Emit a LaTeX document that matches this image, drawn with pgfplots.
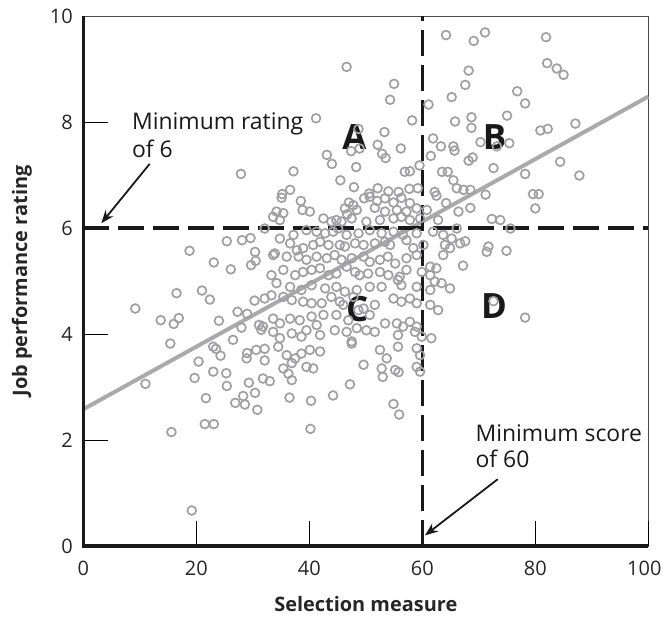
\documentclass[border=0pt]{standalone}
\usepackage{pgfplots}
\pgfplotsset{compat=1.18}
\usepackage{pgfplotstable}
\usepackage{fontspec}
\setmainfont{Open Sans}
\setsansfont{Open Sans}
\usetikzlibrary{arrows.meta}

\definecolor{markgray}{RGB}{160,160,162}
\definecolor{linegray}{RGB}{170,170,170}

% selection score vs job performance rating
\pgfplotstableread{
x y
27.9 7.02
64.2 9.64
46.6 9.04
55.0 8.72
54.3 8.42
65.2 8.47
61.1 8.33
41.2 8.07
58.2 8.03
65.8 8.01
48.7 7.87
53.3 7.81
47.4 7.45
48.9 7.50
52.1 7.57
56.2 7.50
43.1 7.38
44.0 7.21
48.3 7.15
52.9 7.40
53.5 7.32
61.9 7.69
63.3 7.54
61.5 7.36
65.5 7.54
65.7 7.46
59.5 7.18
56.9 7.06
57.8 7.07
37.2 7.07
45.5 6.90
47.9 6.77
36.6 6.72
35.2 6.64
50.6 6.65
52.1 6.75
54.0 6.69
55.8 6.68
57.7 6.74
59.2 6.75
62.2 6.68
63.5 7.06
64.5 7.06
65.5 6.90
66.1 6.75
69.1 9.53
71.1 9.69
81.9 9.60
82.1 9.11
83.8 9.01
85.0 8.89
68.2 8.97
67.6 8.70
76.8 8.58
78.2 8.35
68.7 8.09
68.7 7.89
75.0 8.12
80.9 7.84
82.2 7.87
87.1 7.97
70.3 7.62
73.2 7.54
75.4 7.60
68.2 7.27
68.9 7.33
72.6 7.13
84.4 7.25
78.2 7.02
87.8 6.99
67.3 6.72
68.5 6.72
71.2 6.63
79.6 6.64
80.6 6.64
80.0 6.37
68.5 6.38
66.4 6.31
72.3 6.17
73.8 6.15
75.6 5.99
66.1 5.99
67.6 5.75
66.7 5.71
71.7 5.65
71.4 5.55
74.9 5.57
67.2 5.29
72.6 4.62
78.2 4.31
32.1 5.99
25.4 5.75
28.1 5.77
29.6 5.81
18.8 5.57
23.1 5.35
26.1 5.22
30.4 5.55
30.5 5.38
29.7 5.30
16.5 4.77
21.0 4.82
22.4 4.65
30.3 4.63
32.1 4.67
9.2 4.48
13.7 4.26
16.9 4.30
16.0 4.19
24.0 4.25
27.3 4.42
29.0 4.38
31.1 4.17
31.5 4.08
31.8 4.14
28.0 4.12
15.4 3.82
26.5 3.89
23.0 3.76
23.5 3.72
24.3 3.59
29.0 3.64
28.9 3.54
30.6 3.70
32.1 3.72
32.1 3.50
20.4 3.48
23.0 3.29
25.3 3.26
11.0 3.06
19.7 3.17
31.8 3.16
33.0 3.11
25.4 3.02
29.3 3.08
21.7 2.79
26.9 2.70
28.3 2.83
28.6 2.67
30.4 2.89
30.8 2.57
21.5 2.30
23.1 2.30
15.6 2.15
19.2 0.67
36.9 3.13
36.3 3.25
36.5 2.80
40.3 2.74
44.2 2.84
47.2 3.05
53.0 3.19
55.8 3.28
54.9 2.68
55.9 2.48
40.2 2.21
35.1 6.57
38.5 6.51
47.0 6.48
47.8 6.43
49.7 6.56
50.7 6.59
52.0 6.51
53.4 6.56
54.9 6.48
56.3 6.57
57.8 6.47
62.5 6.61
64.2 6.47
34.2 6.31
35.4 6.28
38.8 6.34
40.1 6.31
46.3 6.37
46.7 6.26
48.4 6.34
51.6 6.38
53.4 6.31
55.5 6.34
57.2 6.31
59.0 6.37
60.8 6.34
33.6 6.21
34.8 6.15
42.5 6.18
43.9 6.12
44.8 6.15
45.7 6.12
47.5 6.18
50.1 6.12
52.5 6.15
54.9 6.18
56.3 6.21
57.8 6.15
59.6 6.18
62.8 6.15
34.8 5.80
37.2 5.87
39.5 5.96
41.3 5.93
42.8 5.90
44.2 5.93
45.1 5.99
46.6 5.87
48.7 5.90
50.7 5.96
52.8 5.90
54.9 5.93
56.6 5.87
59.0 5.90
61.9 5.93
63.7 5.87
65.2 5.80
33.9 5.52
36.6 5.71
37.8 5.58
38.9 5.62
40.7 5.68
41.9 5.74
43.4 5.68
45.4 5.68
46.3 5.65
48.1 5.71
49.6 5.68
51.6 5.71
53.4 5.74
54.3 5.68
57.2 5.77
58.4 5.62
60.2 5.68
64.0 5.68
64.9 5.62
33.6 5.49
36.0 5.46
38.1 5.46
39.5 5.40
41.3 5.46
43.1 5.43
44.5 5.49
45.7 5.40
47.5 5.43
49.6 5.46
50.7 5.36
52.5 5.40
53.9 5.46
55.2 5.33
57.2 5.43
59.0 5.49
61.4 5.27
62.5 5.24
63.7 5.49
33.3 5.11
35.4 5.21
37.5 5.11
38.9 5.17
40.4 5.21
41.9 5.24
43.4 5.11
44.8 5.14
46.6 5.27
48.1 5.17
48.9 5.11
50.4 5.14
52.5 5.17
54.0 5.11
56.0 5.08
57.2 5.21
59.9 5.17
61.4 5.11
62.2 4.99
63.4 4.96
34.2 4.96
36.6 4.89
38.6 4.83
40.4 4.92
42.8 4.86
44.8 4.89
46.3 4.80
48.4 4.83
50.7 4.89
52.8 4.89
55.7 5.02
56.3 4.92
59.0 4.89
61.4 4.83
64.9 4.86
33.3 4.73
35.4 4.70
36.9 4.64
38.9 4.61
40.4 4.58
42.2 4.58
43.9 4.70
45.4 4.61
46.0 4.55
47.8 4.70
49.6 4.48
51.6 4.55
54.9 4.67
56.3 4.61
57.8 4.67
59.0 4.58
61.4 4.55
62.8 4.45
33.6 4.29
34.8 4.20
36.6 4.29
38.3 4.26
40.4 4.33
41.3 4.17
42.5 4.36
44.8 4.36
46.9 4.26
48.7 4.45
50.7 4.36
53.4 4.20
55.5 4.20
56.6 4.14
57.8 4.23
59.0 4.14
33.6 4.04
34.8 3.92
36.9 4.01
38.6 3.95
39.5 4.07
41.9 3.98
44.5 4.07
46.6 4.04
47.5 3.86
48.4 4.11
50.1 4.07
51.6 4.04
55.7 3.98
58.7 4.04
59.9 3.95
61.6 3.92
34.5 3.76
36.0 3.60
37.5 3.54
38.6 3.63
40.1 3.70
41.9 3.67
47.5 3.82
52.5 3.70
53.7 3.54
55.7 3.76
59.0 3.73
59.6 3.60
35.4 3.35
36.9 3.45
39.5 3.38
40.7 3.35
49.6 3.42
52.8 3.35
55.2 3.32
59.0 3.38
59.6 3.29
}\scores

\pgfplotstableread{
x y
0 2.58
100 8.48
}\fitline

\begin{document}
\begin{tikzpicture}
\path[use as bounding box] (-83.3bp,-78bp) rectangle (579.7bp,546bp);
\begin{axis}[
    scale only axis,
    width=565bp, height=530bp,
    xmin=0, xmax=100,
    ymin=0, ymax=10,
    xtick={0,20,...,80},
    extra x ticks={100},
    extra x tick style={xticklabel style={xshift=-4bp}},
    ytick={0,2,...,10},
    tick pos=left,
    tick align=inside,
    major tick length=25bp,
    tick style={black, line width=0.8bp},
    axis line style={draw=black!70, line width=0.8bp},
    /pgf/number format/assume math mode=true,
    ticklabel style={font=\fontsize{20}{20}\selectfont, text=black!85},
    xticklabel style={yshift=-12bp},
    yticklabel style={xshift=-7bp},
    xlabel={Selection measure},
    ylabel={Job performance rating},
    label style={font=\bfseries\fontsize{20}{20}\selectfont, text=black!85},
    xlabel style={at={(axis description cs:0.5,-0.109)}, anchor=center},
    ylabel style={at={(axis description cs:-0.1085,0.5)}, anchor=center},
    clip=false,
]

\addplot[only marks, mark=o, mark size=4.4bp,
    mark options={draw=markgray, line width=1.7bp}]
    table {\scores};

\addplot[linegray, line width=4bp, no marks] table {\fitline};

% cut-off lines
\draw[black!90, line width=3.5bp, dash pattern=on 26bp off 9bp]
    (axis cs:0,6) -- (axis cs:100,6);
\draw[black!90, line width=3.5bp, dash pattern=on 26bp off 9bp]
    (axis cs:60,0) -- (axis cs:60,10);

% heavy left and bottom axis
\draw[black!90, line width=3.5bp] (axis cs:0,10) -- (axis cs:0,0) -- (axis cs:100,0);

\node[font=\bfseries\fontsize{35}{35}\selectfont, text=black!90, inner sep=0pt] at (axis cs:48.0,7.71) {A};
\node[font=\bfseries\fontsize{35}{35}\selectfont, text=black!90, inner sep=0pt] at (axis cs:72.8,7.71) {B};
\node[font=\bfseries\fontsize{35}{35}\selectfont, text=black!90, inner sep=0pt] at (axis cs:48.5,4.48) {C};
\node[font=\bfseries\fontsize{35}{35}\selectfont, text=black!90, inner sep=0pt] at (axis cs:72.7,4.53) {D};

\node[font=\fontsize{23}{23}\selectfont, text=black!90, inner sep=0pt, anchor=base west] at (axis cs:8.6,7.855) {Minimum rating};
\node[font=\fontsize{23}{23}\selectfont, text=black!90, inner sep=0pt, anchor=base west] at (axis cs:8.6,7.33) {of 6};
\node[font=\fontsize{23}{23}\selectfont, text=black!90, inner sep=0pt, anchor=base west] at (axis cs:69.4,1.975) {Minimum score};
\node[font=\fontsize{23}{23}\selectfont, text=black!90, inner sep=0pt, anchor=base west] at (axis cs:69.4,1.49) {of 60};

\draw[-{Stealth[length=13bp,width=10bp]}, line width=1.8bp, black!90]
    (axis cs:11.75,7.21) -- (axis cs:3.19,6.09);
\draw[-{Stealth[length=13bp,width=10bp]}, line width=1.8bp, black!90]
    (axis cs:73.35,1.26) -- (axis cs:60.47,0.2);

\end{axis}
\end{tikzpicture}
\end{document}
